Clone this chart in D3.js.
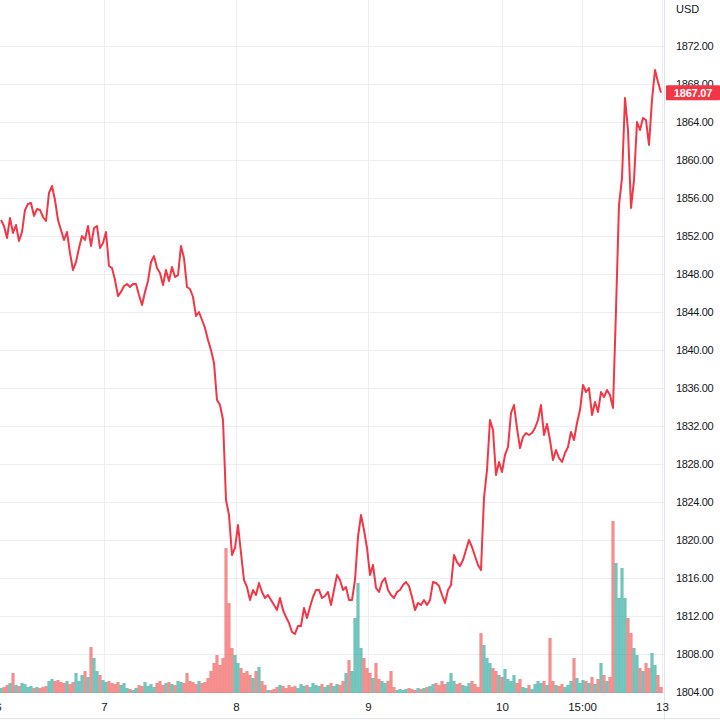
<!DOCTYPE html>
<html><head><meta charset="utf-8">
<script src="https://cdn.jsdelivr.net/npm/d3@7"></script>
<style>html,body{margin:0;padding:0;background:#fff;} svg{display:block}</style>
</head><body>
<script>
// Price (close) series, evenly spaced bars
const prices = [
1853.68,1853.05,1851.79,1853.89,1852.32,1853.16,1851.47,1852.42,1854.74,1855.37,
1855.47,1854.11,1854.84,1854.74,1854.00,1853.58,1856.53,1857.26,1855.79,1853.68,
1852.63,1851.58,1852.42,1850.21,1848.42,1849.26,1850.74,1852.00,1851.58,1853.05,
1850.95,1852.84,1853.05,1850.74,1851.26,1852.42,1848.84,1848.63,1847.37,1845.68,
1846.11,1846.74,1846.95,1846.63,1846.95,1846.95,1845.79,1844.74,1846.11,1847.26,
1849.26,1849.89,1848.63,1848.11,1846.84,1848.42,1847.26,1848.74,1847.68,1847.89,
1850.95,1849.68,1846.63,1846.42,1845.58,1843.58,1844.00,1843.16,1842.32,1841.05,
1840.00,1838.63,1834.74,1834.21,1832.63,1824.21,1822.63,1818.42,1819.16,1821.58,
1818.63,1815.79,1815.05,1813.68,1814.74,1814.21,1815.47,1814.53,1813.89,1814.21,
1813.68,1813.16,1812.63,1813.89,1812.63,1811.89,1811.26,1810.32,1810.11,1810.95,
1810.95,1812.84,1811.79,1812.95,1814.00,1814.74,1814.74,1813.89,1814.11,1814.53,
1813.16,1814.74,1816.32,1815.79,1814.74,1815.05,1813.68,1813.68,1815.79,1820.32,
1822.63,1821.05,1819.16,1816.32,1817.37,1814.95,1814.53,1815.58,1816.00,1814.74,
1814.21,1813.89,1814.53,1814.74,1815.26,1815.58,1815.16,1814.00,1812.63,1813.37,
1813.16,1813.68,1813.16,1813.68,1815.58,1815.47,1815.16,1814.21,1813.37,1814.74,
1815.26,1818.42,1817.68,1817.26,1817.89,1818.95,1820.00,1819.26,1818.32,1817.37,
1816.84,1824.42,1827.37,1832.63,1831.58,1826.84,1828.21,1827.16,1828.95,1829.79,
1833.37,1834.21,1831.79,1829.68,1830.84,1831.26,1831.05,1831.26,1831.79,1832.63,
1834.21,1831.05,1832.21,1830.53,1828.42,1829.47,1828.63,1828.21,1829.16,1829.79,
1831.37,1830.53,1832.32,1833.68,1836.32,1835.58,1836.00,1833.16,1834.53,1833.47,
1835.58,1835.05,1835.79,1835.26,1833.89,1844.21,1855.26,1858.11,1866.53,1863.16,
1854.95,1857.89,1864.00,1863.16,1864.42,1864.21,1861.58,1866.32,1869.47,1868.21,
1867.07
];
// Volume per bar
const volumes = [
5,6,8,10,20,8,7,10,9,6,
7,5,6,5,6,7,12,14,12,13,
11,10,12,9,11,20,12,18,22,16,
46,35,22,18,13,11,12,10,9,11,
8,10,5,4,3,5,8,7,11,7,
9,6,10,12,8,10,11,9,8,12,
11,10,20,12,11,9,12,10,11,15,
22,30,38,28,35,145,90,45,38,30,
25,20,22,18,15,22,26,12,8,3,
3,4,6,8,7,5,8,6,7,5,
9,7,8,6,10,8,7,9,6,8,
10,7,9,8,12,20,33,22,75,110,
45,35,25,20,15,30,14,12,10,12,
22,6,3,4,3,4,5,4,3,5,
4,5,6,7,9,10,8,12,9,11,
20,12,9,10,8,7,10,12,9,6,
60,48,35,30,25,22,18,16,24,14,
12,18,10,14,6,5,8,4,9,12,
10,12,8,55,12,8,7,9,6,8,
12,35,15,10,13,12,10,16,9,14,
30,18,12,16,172,130,95,125,95,75,
60,45,38,25,22,30,25,40,28,18,
6
];
const priceTicks = [1804,1808,1812,1816,1820,1824,1828,1832,1836,1840,1844,1848,1852,1856,1860,1864,1868,1872];
const timeTickLabels = ["6","7","8","9","10","15:00","13"];
const timeTickBars = [-1, 34.3, 78.3, 122.3, 167, 193.7, 220.3];
const currency = "USD";
const lastPrice = 1867.07;

const W = 720, H = 720;
const plotRight = 664, plotBottom = 694;
const FONT = "'Liberation Sans', Arial, sans-serif";

const svg = d3.select("body").append("svg").attr("width", W).attr("height", H);

const x = d3.scaleLinear().domain([0, prices.length - 1]).range([1, 661]);
const y = d3.scaleLinear().domain([1804, 1872]).range([692, 46]);
const v = d3.scaleLinear().domain([0, d3.max(volumes)]).range([693, 521]);

svg.append("defs").append("clipPath").attr("id", "plot")
  .append("rect").attr("x", 0).attr("y", 0).attr("width", plotRight).attr("height", plotBottom);

const plot = svg.append("g").attr("clip-path", "url(#plot)");

// grid
plot.selectAll("line.hg").data(priceTicks).join("line")
  .attr("x1", 0).attr("x2", plotRight)
  .attr("y1", d => Math.round(y(d)) + 0.5).attr("y2", d => Math.round(y(d)) + 0.5)
  .attr("stroke", "#eceef2").attr("stroke-width", 1);
plot.selectAll("line.vg").data(timeTickBars).join("line")
  .attr("y1", 0).attr("y2", plotBottom)
  .attr("x1", d => Math.round(x(d)) + 0.5).attr("x2", d => Math.round(x(d)) + 0.5)
  .attr("stroke", "#eceef2").attr("stroke-width", 1);

// volume
const bw = 3.2;
plot.selectAll("rect.vol").data(volumes).join("rect")
  .attr("x", (d, i) => x(i) - bw / 2)
  .attr("y", d => v(d))
  .attr("width", bw)
  .attr("height", d => v(0) - v(d))
  .attr("fill", (d, i) => (i === 0 || prices[i] >= prices[i - 1]) ? "#26a69a" : "#ef5350")
  .attr("fill-opacity", 0.65);

// price line
const line = d3.line().x((d, i) => x(i)).y(d => y(d));
plot.append("path").datum(prices)
  .attr("d", line)
  .attr("fill", "none")
  .attr("stroke", "#f23645")
  .attr("stroke-width", 2)
  .attr("stroke-linejoin", "round");

// borders
svg.append("line").attr("x1", plotRight + 0.5).attr("x2", plotRight + 0.5).attr("y1", 0).attr("y2", H)
  .attr("stroke", "#e0e3eb");
svg.append("line").attr("x1", 0).attr("x2", W).attr("y1", 718.5).attr("y2", 718.5)
  .attr("stroke", "#e0e3eb");

// right price axis
const yAxis = d3.axisRight(y).tickValues(priceTicks).tickFormat(d3.format(".2f")).tickSize(0).tickPadding(12);
const ya = svg.append("g").attr("transform", `translate(${plotRight},0)`).call(yAxis);
ya.select(".domain").remove();
ya.selectAll("text").attr("fill", "#131722").style("font-family", FONT).style("font-size", "11px").style("letter-spacing", "-0.35px");

svg.append("text").attr("x", plotRight + 12).attr("y", 13).text(currency)
  .attr("fill", "#131722").style("font-family", FONT).style("font-size", "11px");

// bottom time axis
const xAxis = d3.axisBottom(x).tickValues(timeTickBars).tickFormat((d, i) => timeTickLabels[i]).tickSize(0).tickPadding(9);
const xa = svg.append("g").attr("transform", `translate(0,${plotBottom})`).call(xAxis);
xa.select(".domain").remove();
xa.selectAll("text").attr("fill", "#131722").style("font-family", FONT).style("font-size", "11.5px");

// last price label
const ly = y(lastPrice);
svg.append("rect").attr("x", plotRight + 2).attr("y", ly - 7.5).attr("width", W - plotRight - 2).attr("height", 15)
  .attr("fill", "#f23645").attr("rx", 1);
svg.append("text").attr("x", plotRight + 2 + (W - plotRight - 2) / 2).attr("y", ly).attr("dy", "0.35em")
  .attr("text-anchor", "middle").attr("fill", "#fff")
  .style("font-family", FONT).style("font-size", "11px").style("font-weight", "bold").style("letter-spacing", "-0.2px")
  .text(d3.format(".2f")(lastPrice));
</script>
</body></html>
